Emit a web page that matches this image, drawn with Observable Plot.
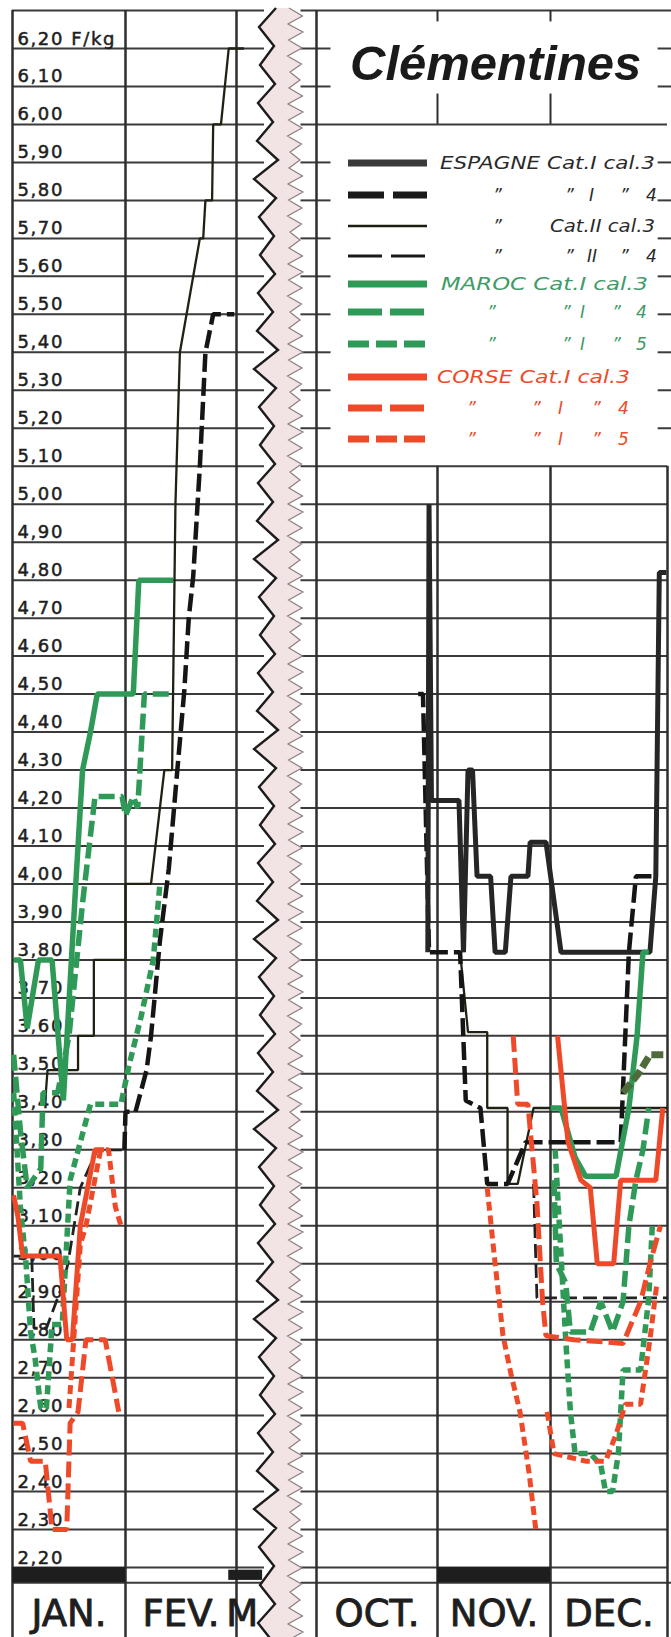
<!DOCTYPE html>
<html><head><meta charset="utf-8">
<script src="https://cdn.jsdelivr.net/npm/d3@7"></script>
<script src="https://cdn.jsdelivr.net/npm/@observablehq/plot@0.6"></script>
<style>
body{margin:0;background:#fff}
#chart{position:relative;width:671px;height:1637px;overflow:hidden}
</style>
</head><body><div id="chart"></div>
<script>
// ---- time axis: fractional months (Jan 1 = 0 ... Mar 1 = 2, Oct 1 = 9, Nov 1 = 10, Dec 1 = 11, Jan 1 = 12)
const monthKnots = [0, 1, 2, 2.3, 9, 10, 11, 12];
const monthKnotPx = [12, 125, 236, 264, 316, 437, 550, 667];
const monthLabels = ["JAN.", "FEV.", "M", "OCT.", "NOV.", "DEC."];
const monthLabelPos = [0.5, 1.5, 2.06, 9.5, 10.5, 11.5];
const blackBandMonths = [[0, 1], [10, 11]];

// ---- price axis (F/kg)
const yTicks = [6.2,6.1,6.0,5.9,5.8,5.7,5.6,5.5,5.4,5.3,5.2,5.1,5.0,4.9,4.8,4.7,4.6,4.5,4.4,4.3,4.2,4.1,4.0,3.9,3.8,3.7,3.6,3.5,3.4,3.3,3.2,3.1,3.0,2.9,2.8,2.7,2.6,2.5,2.4,2.3,2.2];
const yTickLabels = ["6,20 F/kg","6,10","6,00","5,90","5,80","5,70","5,60","5,50","5,40","5,30","5,20","5,10","5,00","4,90","4,80","4,70","4,60","4,50","4,40","4,30","4,20","4,10","4,00","3,90","3,80","3,70","3,60","3,50","3,40","3,30","3,20","3,10","3,00","2,90","2,80","2,70","2,60","2,50","2,40","2,30","2,20"];

// ---- series [month, price]; null rows = gaps
const espagneI3 = [[9.92,3.82],[9.93,5.00],[9.95,4.22],[10.19,4.22],[10.23,3.82],[10.27,4.30],[10.31,4.30],[10.35,4.02],[10.47,4.02],[10.51,3.82],[10.60,3.82],[10.65,4.02],[10.80,4.02],[10.82,4.11],[10.96,4.11],[11.09,3.82],[11.85,3.82],[11.90,4.02],[11.93,4.82],[11.99,4.82]];
const espagneI4 = [[0.99,3.30],[1.00,3.40],[1.09,3.40],[1.19,3.51],[1.23,3.60],[1.31,3.85],[1.39,4.04],[1.47,4.31],[1.53,4.51],[1.57,4.70],[1.61,4.81],[1.67,5.10],[1.72,5.40],[1.79,5.50],[1.98,5.50],[null,null],[9.84,4.50],[9.88,4.50],[9.93,3.82],[10.20,3.82],[10.25,3.43],[10.38,3.41],[10.44,3.21],[10.62,3.21],[10.78,3.32],[11.60,3.32],[11.67,3.82],[11.73,4.02],[11.91,4.02]];
const espagneII3 = [[0.29,3.43],[0.31,3.51],[0.58,3.51],[0.58,3.60],[0.72,3.60],[0.72,3.80],[1.00,3.80],[1.00,4.00],[1.23,4.00],[1.35,4.30],[1.42,4.30],[1.45,5.00],[1.49,5.40],[1.67,5.70],[1.70,5.70],[1.72,5.80],[1.78,5.80],[1.79,6.00],[1.86,6.00],[1.93,6.20],[2.08,6.20],[null,null],[10.20,3.82],[10.27,3.61],[10.44,3.61],[10.44,3.41],[10.62,3.41],[10.62,3.21],[10.71,3.21],[10.85,3.41],[12.0,3.41]];
const espagneII4 = [[0.01,3.02],[0.17,3.02],[0.19,2.83],[0.30,2.83],[0.45,2.95],[0.49,3.00],[0.60,3.20],[0.75,3.30],[0.97,3.30],[null,null],[10.85,3.21],[10.88,2.91],[12.0,2.91]];
const marocI3 = [[0.01,3.80],[0.07,3.80],[0.13,3.62],[0.23,3.80],[0.35,3.80],[0.45,3.43],[0.56,4.00],[0.62,4.30],[0.69,4.40],[0.75,4.50],[0.97,4.50],[1.07,4.50],[1.12,4.80],[1.43,4.80],[null,null],[11.00,3.41],[11.09,3.41],[11.21,3.28],[11.30,3.23],[11.56,3.23],[11.67,3.41],[11.74,3.60],[11.79,3.82],[11.84,3.82]];
const marocI4 = [[0.01,3.55],[0.07,3.35],[0.13,3.20],[0.25,3.25],[0.27,3.45],[0.40,3.45],[0.50,3.60],[0.62,3.95],[0.73,4.23],[0.97,4.23],[1.00,4.18],[1.07,4.23],[1.11,4.20],[1.17,4.50],[1.40,4.50],[null,null],[11.03,3.22],[11.05,3.00],[11.13,2.95],[11.17,2.82],[11.34,2.82],[11.43,2.90],[11.53,2.82],[11.62,2.90],[11.67,3.10],[11.73,3.22],[11.79,3.30],[11.84,3.41]];
const marocI5 = [[0.01,3.45],[0.07,3.15],[0.12,3.00],[0.16,2.82],[0.20,2.75],[0.25,2.62],[0.30,2.62],[0.35,2.84],[0.44,2.84],[0.51,3.22],[0.60,3.32],[0.69,3.42],[0.96,3.42],[1.03,3.52],[1.14,3.65],[1.25,3.80],[1.31,4.00],[null,null],[11.04,3.30],[11.13,2.80],[11.17,2.61],[11.21,2.50],[11.34,2.50],[11.43,2.47],[11.47,2.40],[11.53,2.40],[11.58,2.50],[11.62,2.72],[11.77,2.72],[11.84,2.91],[11.87,3.10]];
const marocDecBlock = [[11.62,3.45],[11.75,3.50],[11.85,3.55],[11.99,3.55]];
const corseI3 = [[0.01,3.18],[0.05,3.12],[0.09,3.02],[0.42,3.02],[0.48,2.80],[0.53,2.80],[0.60,3.10],[0.73,3.30],[0.81,3.30],[null,null],[11.06,3.60],[11.15,3.32],[11.26,3.22],[11.34,3.20],[11.40,3.00],[11.54,3.00],[11.60,3.22],[11.90,3.22],[11.96,3.41]];
const corseI4 = [[0.01,2.58],[0.09,2.58],[0.16,2.48],[0.29,2.48],[0.35,2.30],[0.48,2.30],[0.51,2.58],[0.58,2.61],[0.65,2.80],[0.82,2.80],[0.94,2.61],[null,null],[10.67,3.60],[10.71,3.42],[10.80,3.42],[10.88,3.16],[10.93,2.90],[10.96,2.81],[11.20,2.80],[11.62,2.79],[11.77,2.90],[11.85,3.00],[11.94,3.10]];
const corseI5 = [[0.50,2.62],[0.60,3.05],[0.65,3.10],[0.78,3.30],[0.85,3.30],[0.91,3.15],[0.96,3.10],[null,null],[10.44,3.20],[10.51,3.00],[10.58,2.81],[10.65,2.71],[10.73,2.61],[10.81,2.45],[10.87,2.30],[null,null],[10.97,2.61],[11.03,2.50],[11.30,2.48],[11.47,2.48],[11.56,2.55],[11.64,2.63],[11.77,2.63],[11.85,2.80],[11.91,2.95]];

const GREEN = "#2f9a57", RED = "#ee4a2a", DARK = "#262626";
const series = [
  {data: espagneII3, stroke: "#1f2212", w: 2.3, dash: null},
  {data: espagneII4, stroke: "#222", w: 2.8, dash: "14,6"},
  {data: espagneI4, stroke: "#151515", w: 4.5, dash: "18,6"},
  {data: espagneI3, stroke: DARK, w: 5, dash: null},
  {data: marocI3, stroke: GREEN, w: 5.5, dash: null},
  {data: marocI4, stroke: GREEN, w: 5.5, dash: "16,6"},
  {data: marocI5, stroke: GREEN, w: 5.5, dash: "9,5"},
  {data: marocDecBlock, stroke: "#4f6b3c", w: 7, dash: "12,4"},
  {data: corseI3, stroke: RED, w: 5, dash: null},
  {data: corseI4, stroke: RED, w: 5, dash: "16,6"},
  {data: corseI5, stroke: RED, w: 5, dash: "9,5"}
];

const TOP = 6.3, BOTTOM = 2.0, BAND = 2.16, LABELV = 2.078;
const leftGridEnd = 2.3, rightGridStart = 7.0;
const rightGrid = yTicks.filter(v => v <= 5.1001).concat([6.0]);
const rightTicks = yTicks.filter(v => v > 5.1001 && v !== 6.0);
const yLab = yTicks.map((v, i) => ({v, label: yTickLabels[i]}));
const mLab = monthLabels.map((m, i) => ({m, x: monthLabelPos[i]}));

const gridC = "#3a3a3a";
const plot = Plot.plot({
  width: 671, height: 1637,
  marginTop: 0, marginBottom: 0, marginLeft: 0, marginRight: 0,
  style: {background: "#fff", fontFamily: "DejaVu Sans"},
  x: {type: "linear", domain: monthKnots, range: monthKnotPx, axis: null},
  y: {type: "linear", domain: [2.2, 6.2], range: [1567, 48], axis: null},
  marks: [
    Plot.ruleY(yTicks, {x1: 0, x2: leftGridEnd, stroke: gridC, strokeWidth: 2}),
    Plot.ruleY([TOP, BAND], {x1: 0, x2: leftGridEnd, stroke: gridC, strokeWidth: 2}),
    Plot.ruleY(rightGrid, {x1: rightGridStart, x2: 12, stroke: gridC, strokeWidth: 2}),
    Plot.ruleY([TOP, BAND], {x1: rightGridStart, x2: 12.1, stroke: gridC, strokeWidth: 2}),
    Plot.ruleY(rightTicks, {x1: rightGridStart, x2: 9.12, stroke: gridC, strokeWidth: 2}),
    Plot.ruleY(rightTicks, {x1: 11.92, x2: 12.1, stroke: gridC, strokeWidth: 2}),
    Plot.ruleX([0, 1, 2, 9], {y1: TOP, y2: BOTTOM, stroke: "#2e2e2e", strokeWidth: 2.5}),
    Plot.ruleX([10, 11, 12], {y1: 5.1, y2: BOTTOM, stroke: "#2e2e2e", strokeWidth: 2.5}),
    Plot.ruleX([10, 11], {y1: 6.0, y2: 6.08, stroke: "#2e2e2e", strokeWidth: 2}),
    Plot.ruleX([10, 11], {y1: 6.27, y2: 6.3, stroke: "#2e2e2e", strokeWidth: 2}),
    Plot.rectY(blackBandMonths, {x1: d => d[0], x2: d => d[1], y1: 2.2, y2: BAND, fill: "#1e1e1e"}),
    Plot.rectY([[1.93, 2.28]], {x1: d => d[0], x2: d => d[1], y1: 2.193, y2: 2.166, fill: "#1e1e1e"}),
    Plot.text(yLab, {x: 0, y: "v", text: "label", dx: 5, dy: -4, textAnchor: "start", lineAnchor: "bottom", fontSize: 18, fill: "#1e1e1e", stroke: "#1e1e1e", strokeWidth: 0.5}),
    Plot.text(mLab, {x: "x", y: LABELV, text: "m", textAnchor: d => d.m === "M" ? "start" : "middle", fontSize: 37, fill: "#1e1e1e", stroke: "#1e1e1e", strokeWidth: 0.9}),
    ...series.map(s => Plot.line(s.data, {x: d => d[0], y: d => d[1], stroke: s.stroke, strokeWidth: s.w, strokeDasharray: s.dash, strokeLinejoin: "miter", strokeLinecap: "butt"}))
  ]
});
document.getElementById("chart").appendChild(plot);

const svg = d3.select(plot);
const textGroups = svg.selectAll('g[aria-label="text"]').nodes();
if (textGroups[0]) d3.select(textGroups[0]).attr("letter-spacing", "1.6px");

// ---- scale break (decoration)
const jit = [0, 3, -2, 4, -1, 2, -3, 1, 2, -2];
const leftPts = [], rightPts = [];
for (let i = 0, yy = 8; yy <= 1645; i++, yy += 19) leftPts.push([(i % 2 ? 256 : 276) + jit[i % jit.length], yy]);
for (let i = 0, yy = 8; yy <= 1645; i++, yy += 8) rightPts.push([(i % 2 ? 301 : 289) + (jit[i % jit.length] / 2), yy]);
const brk = svg.append("g");
brk.append("path")
  .attr("d", "M" + leftPts.map(p => p.join(",")).join("L") + "L" + rightPts.slice().reverse().map(p => p.join(",")).join("L") + "Z")
  .attr("fill", "#f2e4e4");
brk.append("path").attr("d", "M" + leftPts.map(p => p.join(",")).join("L"))
  .attr("fill", "none").attr("stroke", "#1c1c1c").attr("stroke-width", 2.4);
brk.append("path").attr("d", "M" + rightPts.map(p => p.join(",")).join("L"))
  .attr("fill", "none").attr("stroke", "#8a7f7f").attr("stroke-width", 1.2);

// ---- title
svg.append("text").attr("x", 350).attr("y", 80).attr("text-anchor", "start")
  .attr("font-family", "Liberation Sans").attr("font-style", "italic").attr("font-weight", "bold")
  .attr("font-size", 49).attr("fill", "#1a1a1a").text("Clémentines");

// ---- legend
const legendRows = [
  {y: 163, c: "#3a3a3a", w: 7, dash: null, parts: [[440, "ESPAGNE Cat.I cal.3", 215]]},
  {y: 195, c: "#1a1a1a", w: 7, dash: "36,9", parts: [[493, "\u201D"], [565, "\u201D"], [589, "I"], [620, "\u201D"], [646, "4"]]},
  {y: 226, c: "#1b1f10", w: 2.5, dash: null, parts: [[493, "\u201D"], [550, "Cat.II cal.3", 105]]},
  {y: 256, c: "#1a1a1a", w: 3, dash: "34,9", parts: [[493, "\u201D"], [565, "\u201D"], [587, "II"], [620, "\u201D"], [646, "4"]]},
  {y: 284, c: GREEN, w: 7, dash: null, tc: "#3f9b68", parts: [[441, "MAROC Cat.I cal.3", 207]]},
  {y: 312, c: GREEN, w: 7, dash: "34,8", tc: "#3f9b68", parts: [[487, "\u201D"], [562, "\u201D"], [580, "I"], [612, "\u201D"], [636, "4"]]},
  {y: 344, c: GREEN, w: 7, dash: "21,7", tc: "#3f9b68", parts: [[487, "\u201D"], [562, "\u201D"], [580, "I"], [612, "\u201D"], [636, "5"]]},
  {y: 377, c: RED, w: 7, dash: null, tc: RED, parts: [[437, "CORSE Cat.I cal.3", 193]]},
  {y: 408, c: RED, w: 7, dash: "34,8", tc: RED, parts: [[467, "\u201D"], [532, "\u201D"], [558, "I"], [592, "\u201D"], [618, "4"]]},
  {y: 439, c: RED, w: 7, dash: "21,7", tc: RED, parts: [[467, "\u201D"], [532, "\u201D"], [558, "I"], [592, "\u201D"], [618, "5"]]}
];
const lg = svg.append("g");
legendRows.forEach(r => {
  const ln = lg.append("line").attr("x1", 348).attr("x2", 427).attr("y1", r.y).attr("y2", r.y)
    .attr("stroke", r.c).attr("stroke-width", r.w);
  if (r.dash) ln.attr("stroke-dasharray", r.dash);
  r.parts.forEach(p => {
    const t = lg.append("text").attr("x", p[0]).attr("y", r.y + 6).attr("text-anchor", "start")
      .attr("font-family", "DejaVu Sans").attr("font-style", "italic").attr("font-size", 17)
      .attr("fill", r.tc || "#2a2a2a").text(p[1]);
    if (p[2]) t.attr("textLength", p[2]).attr("lengthAdjust", "spacingAndGlyphs");
  });
});
</script></body></html>
